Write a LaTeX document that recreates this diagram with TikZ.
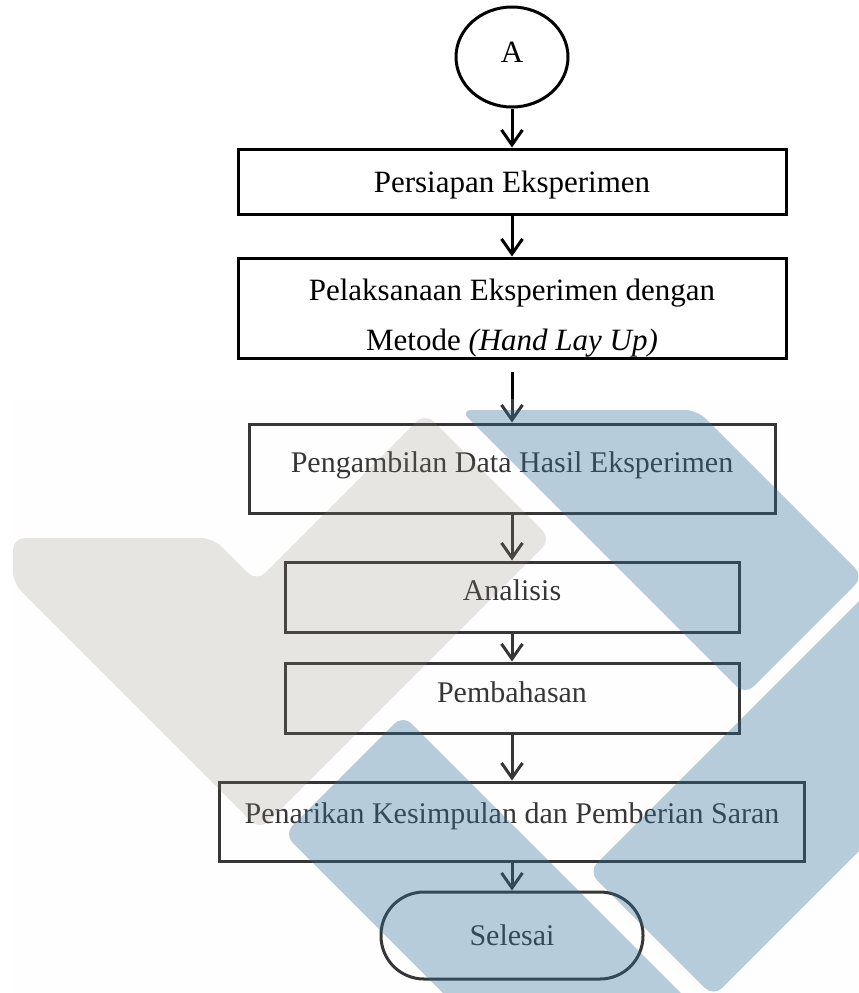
\documentclass[tikz,border=0pt]{standalone}
\usepackage{fontspec}
\setmainfont{Liberation Serif}
\usetikzlibrary{shapes.geometric,arrows.meta}

\definecolor{wmgray}{RGB}{250,250,250}
\definecolor{wmbeige}{RGB}{140,128,115}
\definecolor{wmblue}{RGB}{51,111,154}

\begin{document}
\begin{tikzpicture}[x=1pt, y=-1pt,
  box/.style={rectangle, draw, line width=3pt, inner sep=0pt,
    font=\fontsize{31}{50}\selectfont},
  lowbox/.style={box, font=\fontsize{30}{36}\selectfont},
  txt/.style={text height=#1pt, text depth=0pt},
  flow/.style={-{Straight Barb[length=15pt, width=21pt]}, line width=3pt}]

\useasboundingbox (0,0) rectangle (859,993);

% flowchart

\node[box, ellipse, txt=11, minimum width=112, minimum height=100] (a) at (512,57) {A};
\node[box, txt=21, minimum width=548, minimum height=65] (persiapan) at (512,181.5) {Persiapan Eksperimen};
\node[box, txt=84, minimum width=548, minimum height=100, align=center] (pelaksanaan) at (512,308)
  {Pelaksanaan Eksperimen dengan\\Metode \textit{(Hand Lay Up)}};
\coordinate (gap) at (512,372);
\node[lowbox, txt=7, minimum width=526, minimum height=89] (pengambilan) at (512,468.5) {Pengambilan Data Hasil Eksperimen};
\node[lowbox, txt=6, minimum width=454, minimum height=70] (analisis) at (512,597) {Analisis};
\node[lowbox, txt=8, minimum width=454, minimum height=70] (pembahasan) at (512,698) {Pembahasan};
\node[lowbox, txt=3, minimum width=585, minimum height=79] (penarikan) at (512,821.5) {Penarikan Kesimpulan dan Pemberian Saran};
\node[lowbox, txt=19, rounded corners=43pt, minimum width=262, minimum height=87] (selesai) at (512,935.5) {Selesai};

% edges

\draw[flow] (a) -- (persiapan);
\draw[flow] (persiapan) -- (pelaksanaan);
\draw[flow] (gap) -- (pengambilan);
\draw[flow] (pengambilan) -- (analisis);
\draw[flow] (analisis) -- (pembahasan);
\draw[flow] (pembahasan) -- (penarikan);
\draw[flow] (penarikan) -- (selesai);

% watermark

\begin{scope}
\clip (0,0) rectangle (859,993);
\fill[wmgray, opacity=0.22] (13,399) rectangle (859,993);
\fill[wmbeige, opacity=0.2, rounded corners=12pt]
  (13,538) -- (213,538) -- (256.5,581.5) -- (425,413) -- (551,539) -- (260,830) -- (13,583) -- cycle;
\fill[wmblue, opacity=0.35, rounded corners=12pt]
  (460,410) -- (697,410) -- (863.5,576.5) -- (745,695) -- cycle;
\fill[wmblue, opacity=0.35, rounded corners=12pt]
  (588.5,871.5) -- (900,560) -- (900,810) -- (713.5,996.5) -- cycle;
\fill[wmblue, opacity=0.35, rounded corners=12pt]
  (403,715) -- (284,834) -- (480,1030) -- (718,1030) -- cycle;
\end{scope}

\end{tikzpicture}
\end{document}
